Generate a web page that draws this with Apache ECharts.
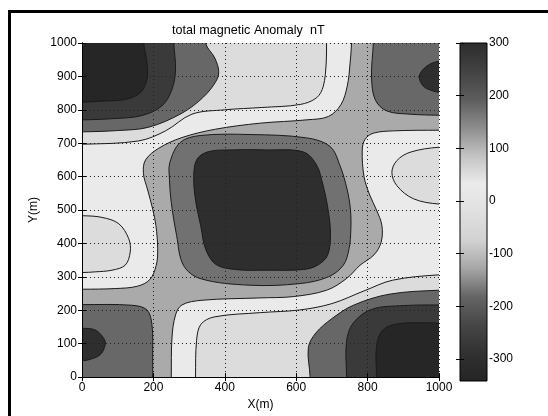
<!DOCTYPE html>
<head>
    <meta charset="utf-8">
    <script type="text/javascript" src="https://cdn.jsdelivr.net/npm/echarts@6/dist/echarts.min.js"></script>
</head>
<body style="margin:0; background:#fff">
	<div id="main" style="width:548px; height:416px"></div>
	<script type="text/javascript">
		// contour regions, drawn in order (each one painted over the previous ones)
		// points are [x(m), y(m)], values in nT
		var crossBase   = [[-100,-100],[1100,-100],[1100,1100],[-100,1100]];
		var lightUL     = [[-100,263],[0,263],[93,265],[155,272],[190,292],[208,335],[212,384],[207,454],[198,503],[184,560],[172,610],[178,650],[215,685],[280,717],[374,742],[499,760],[630,770],[690,780],[725,815],[743,871],[751,940],[755,1000],[757,1100],[-100,1100]];
		var lightLR     = [[248,-100],[250,0],[252,117],[262,186],[280,216],[336,230],[499,237],[592,241],[685,260],[741,295],[779,335],[818,366],[838,404],[840,454],[825,500],[806,545],[790,600],[785,680],[793,712],[816,730],[872,737],[1000,739],[1100,739],[1100,-100]];
		var lowTL       = [[-100,697],[0,697],[159,707],[234,737],[308,787],[400,800],[504,807],[611,816],[657,836],[676,871],[684,940],[685,1000],[686,1100],[-100,1100]];
		var midTL       = [[-100,734],[0,734],[100,738],[187,748],[280,790],[340,838],[375,885],[383,915],[372,955],[346,1000],[340,1100],[-100,1100]];
		var deepTL      = [[-100,770],[0,770],[93,774],[168,783],[224,812],[252,861],[262,921],[257,1000],[255,1100],[-100,1100]];
		var minTL       = [[-100,823],[0,823],[56,826],[121,831],[163,851],[182,891],[182,940],[173,1000],[170,1100],[-100,1100]];
		var lensLeft    = [[-100,483],[0,483],[56,478],[103,459],[131,414],[135,374],[121,335],[84,320],[37,315],[0,313],[-100,313]];
		var lensRight   = [[1100,688],[1000,688],[919,673],[882,648],[868,613],[882,573],[928,534],[1000,518],[1100,518]];
		var lowBR       = [[318,-100],[318,0],[321,110],[333,158],[370,180],[500,193],[610,201],[700,220],[790,258],[870,290],[1000,306],[1100,306],[1100,-100]];
		var midBR       = [[639,-100],[639,0],[634,88],[655,132],[700,175],[760,215],[860,248],[1000,260],[1100,260],[1100,-100]];
		var deepBR      = [[741,-100],[741,0],[741,107],[760,162],[812,203],[900,214],[1000,216],[1100,216],[1100,-100]];
		var minBR       = [[825,-100],[825,0],[825,92],[842,140],[886,160],[1000,162],[1100,162],[1100,-100]];
		var ringCenter  = [[246,642],[275,702],[331,723],[471,726],[629,716],[695,690],[723,632],[743,560],[752,500],[753,440],[748,384],[732,335],[690,300],[611,280],[471,275],[331,295],[284,335],[265,424],[250,523],[245,592]];
		var coreCenter  = [[313,600],[322,652],[355,675],[420,680],[517,680],[620,674],[657,635],[675,575],[688,510],[696,430],[688,365],[660,335],[620,322],[517,320],[430,322],[374,338],[346,384],[333,450],[318,530]];
		var highBL      = [[-100,217],[0,217],[140,215],[182,201],[196,156],[198,60],[198,0],[198,-100],[-100,-100]];
		var peakBL      = [[-100,146],[0,146],[37,141],[61,116],[65,97],[51,67],[19,52],[0,49],[-100,49]];
		var highTR      = [[816,1100],[816,1000],[811,901],[821,831],[853,797],[919,787],[1000,784],[1100,784],[1100,1100]];
		var peakTR      = [[1100,945],[1000,945],[966,931],[945,901],[956,871],[984,856],[1000,853],[1100,853]];

		var regionShapes = [crossBase, lightUL, lightLR, lowTL, midTL, deepTL, minTL, lensLeft, lensRight,
			lowBR, midBR, deepBR, minBR, ringCenter, coreCenter, highBL, peakBL, highTR, peakTR];
		var regionValues = [110, 30, 30, -35, -180, -265, -335, -35, -35,
			-35, -180, -265, -335, 170, 295, 180, 295, 180, 295];

		// gray colour map of the colour bar, bottom (min) to top (max)
		var cmapMin = -342, cmapMax = 300;
		var cmapColors = ['#242424','#313131','#464646','#656565','#a6a6a6','#d2d2d2','#e0e0e0',
			'#ebebeb','#c2c2c2','#8c8c8c','#5c5c5c','#424242','#2c2c2c'];
		var cbarTicks = [-300, -200, -100, 0, 100, 200, 300];

		var font = 'Liberation Sans';
		var plain = function (v) { return String(v); };
		var data = [];
		for (var i = 0; i < regionShapes.length; i++) {
			data.push([regionValues[i], i]);
		}

		var stops = [];
		for (var k = 0; k < cmapColors.length; k++) {
			stops.push({offset: k / (cmapColors.length - 1), color: cmapColors[k]});
		}

		var myChart = echarts.init(document.getElementById('main'));
		var option = {
			animation: false,
			backgroundColor: '#fff',
			title: {
				text: 'total magnetic Anomaly  nT',
				left: 172, top: 24, padding: 0,
				textStyle: {fontSize: 12.6, fontWeight: 'normal', color: '#000', fontFamily: font}
			},
			graphic: [
				{type: 'rect', shape: {x: 8, y: 10, width: 3, height: 406}, style: {fill: '#000'}},
				{type: 'rect', shape: {x: 8, y: 10, width: 540, height: 3}, style: {fill: '#000'}}
			],
			grid: [
				{left: 82, top: 43, width: 357, height: 336},
				{left: 460, top: 43, width: 27, height: 338}
			],
			visualMap: {
				show: false, type: 'continuous', seriesIndex: 0, dimension: 0,
				min: cmapMin, max: cmapMax,
				inRange: {color: cmapColors}
			},
			xAxis: [
				{
					gridIndex: 0, type: 'value', min: 0, max: 1000, interval: 200, z: 10,
					name: 'X(m)', nameLocation: 'middle', nameGap: 19,
					nameTextStyle: {fontSize: 12, color: '#000', fontFamily: font},
					axisLine: {lineStyle: {color: '#000', width: 1}},
					axisTick: {inside: true, length: 4, lineStyle: {color: '#000'}},
					axisLabel: {fontSize: 12, color: '#000', margin: 5, fontFamily: font, formatter: plain},
					splitLine: {show: true, lineStyle: {color: '#222', type: [1, 3], width: 1}}
				},
				{
					gridIndex: 0, type: 'value', min: 0, max: 1000, interval: 200, position: 'top', z: 10,
					axisLine: {lineStyle: {color: '#000', width: 1}},
					axisTick: {inside: true, length: 4, lineStyle: {color: '#000'}},
					axisLabel: {show: false}, splitLine: {show: false}
				},
				{gridIndex: 1, type: 'value', min: 0, max: 1, show: false}
			],
			yAxis: [
				{
					gridIndex: 0, type: 'value', min: 0, max: 1000, interval: 100, z: 10,
					name: 'Y(m)', nameLocation: 'middle', nameGap: 42,
					nameTextStyle: {fontSize: 12, color: '#000', fontFamily: font},
					axisLine: {show: true, lineStyle: {color: '#000', width: 1}},
					axisTick: {show: true, inside: true, length: 4, lineStyle: {color: '#000'}},
					axisLabel: {fontSize: 12, color: '#000', margin: 5, fontFamily: font, formatter: plain},
					splitLine: {show: true, lineStyle: {color: '#222', type: [1, 3], width: 1}}
				},
				{
					gridIndex: 0, type: 'value', min: 0, max: 1000, interval: 100, position: 'right', z: 10,
					axisLine: {show: true, lineStyle: {color: '#000', width: 1}},
					axisTick: {show: true, inside: true, length: 4, lineStyle: {color: '#000'}},
					axisLabel: {show: false}, splitLine: {show: false}
				},
				{
					gridIndex: 1, type: 'value', min: cmapMin, max: cmapMax, position: 'right', z: 10,
					axisLine: {show: false},
					axisTick: {show: true, inside: true, length: 4, customValues: cbarTicks, lineStyle: {color: '#000'}},
					axisLabel: {fontSize: 12, color: '#000', margin: 2, customValues: cbarTicks, fontFamily: font},
					splitLine: {show: false}
				},
				{
					gridIndex: 1, type: 'value', min: cmapMin, max: cmapMax, position: 'left', z: 10,
					axisLine: {show: false},
					axisTick: {show: true, inside: true, length: 4, customValues: cbarTicks, lineStyle: {color: '#000'}},
					axisLabel: {show: false}, splitLine: {show: false}
				}
			],
			series: [
				{
					type: 'custom', xAxisIndex: 0, yAxisIndex: 0, clip: true,
					data: data,
					renderItem: function (params, api) {
						var pts = regionShapes[api.value(1)].map(function (p) { return api.coord(p); });
						return {
							type: 'polygon',
							shape: {points: pts, smooth: 0.35},
							style: {fill: api.visual('color'), stroke: '#1a1a1a', lineWidth: 1}
						};
					}
				},
				{
					type: 'custom', xAxisIndex: 2, yAxisIndex: 2,
					data: [[0, cmapMin, 1, cmapMax]],
					renderItem: function (params, api) {
						var a = api.coord([api.value(0), api.value(1)]);
						var b = api.coord([api.value(2), api.value(3)]);
						return {
							type: 'rect',
							shape: {x: a[0], y: b[1], width: b[0] - a[0], height: a[1] - b[1]},
							style: {
								fill: new echarts.graphic.LinearGradient(0, 1, 0, 0, stops),
								stroke: '#000', lineWidth: 1
							}
						};
					}
				}
			]
		};
		myChart.setOption(option);
	</script>
</body>
